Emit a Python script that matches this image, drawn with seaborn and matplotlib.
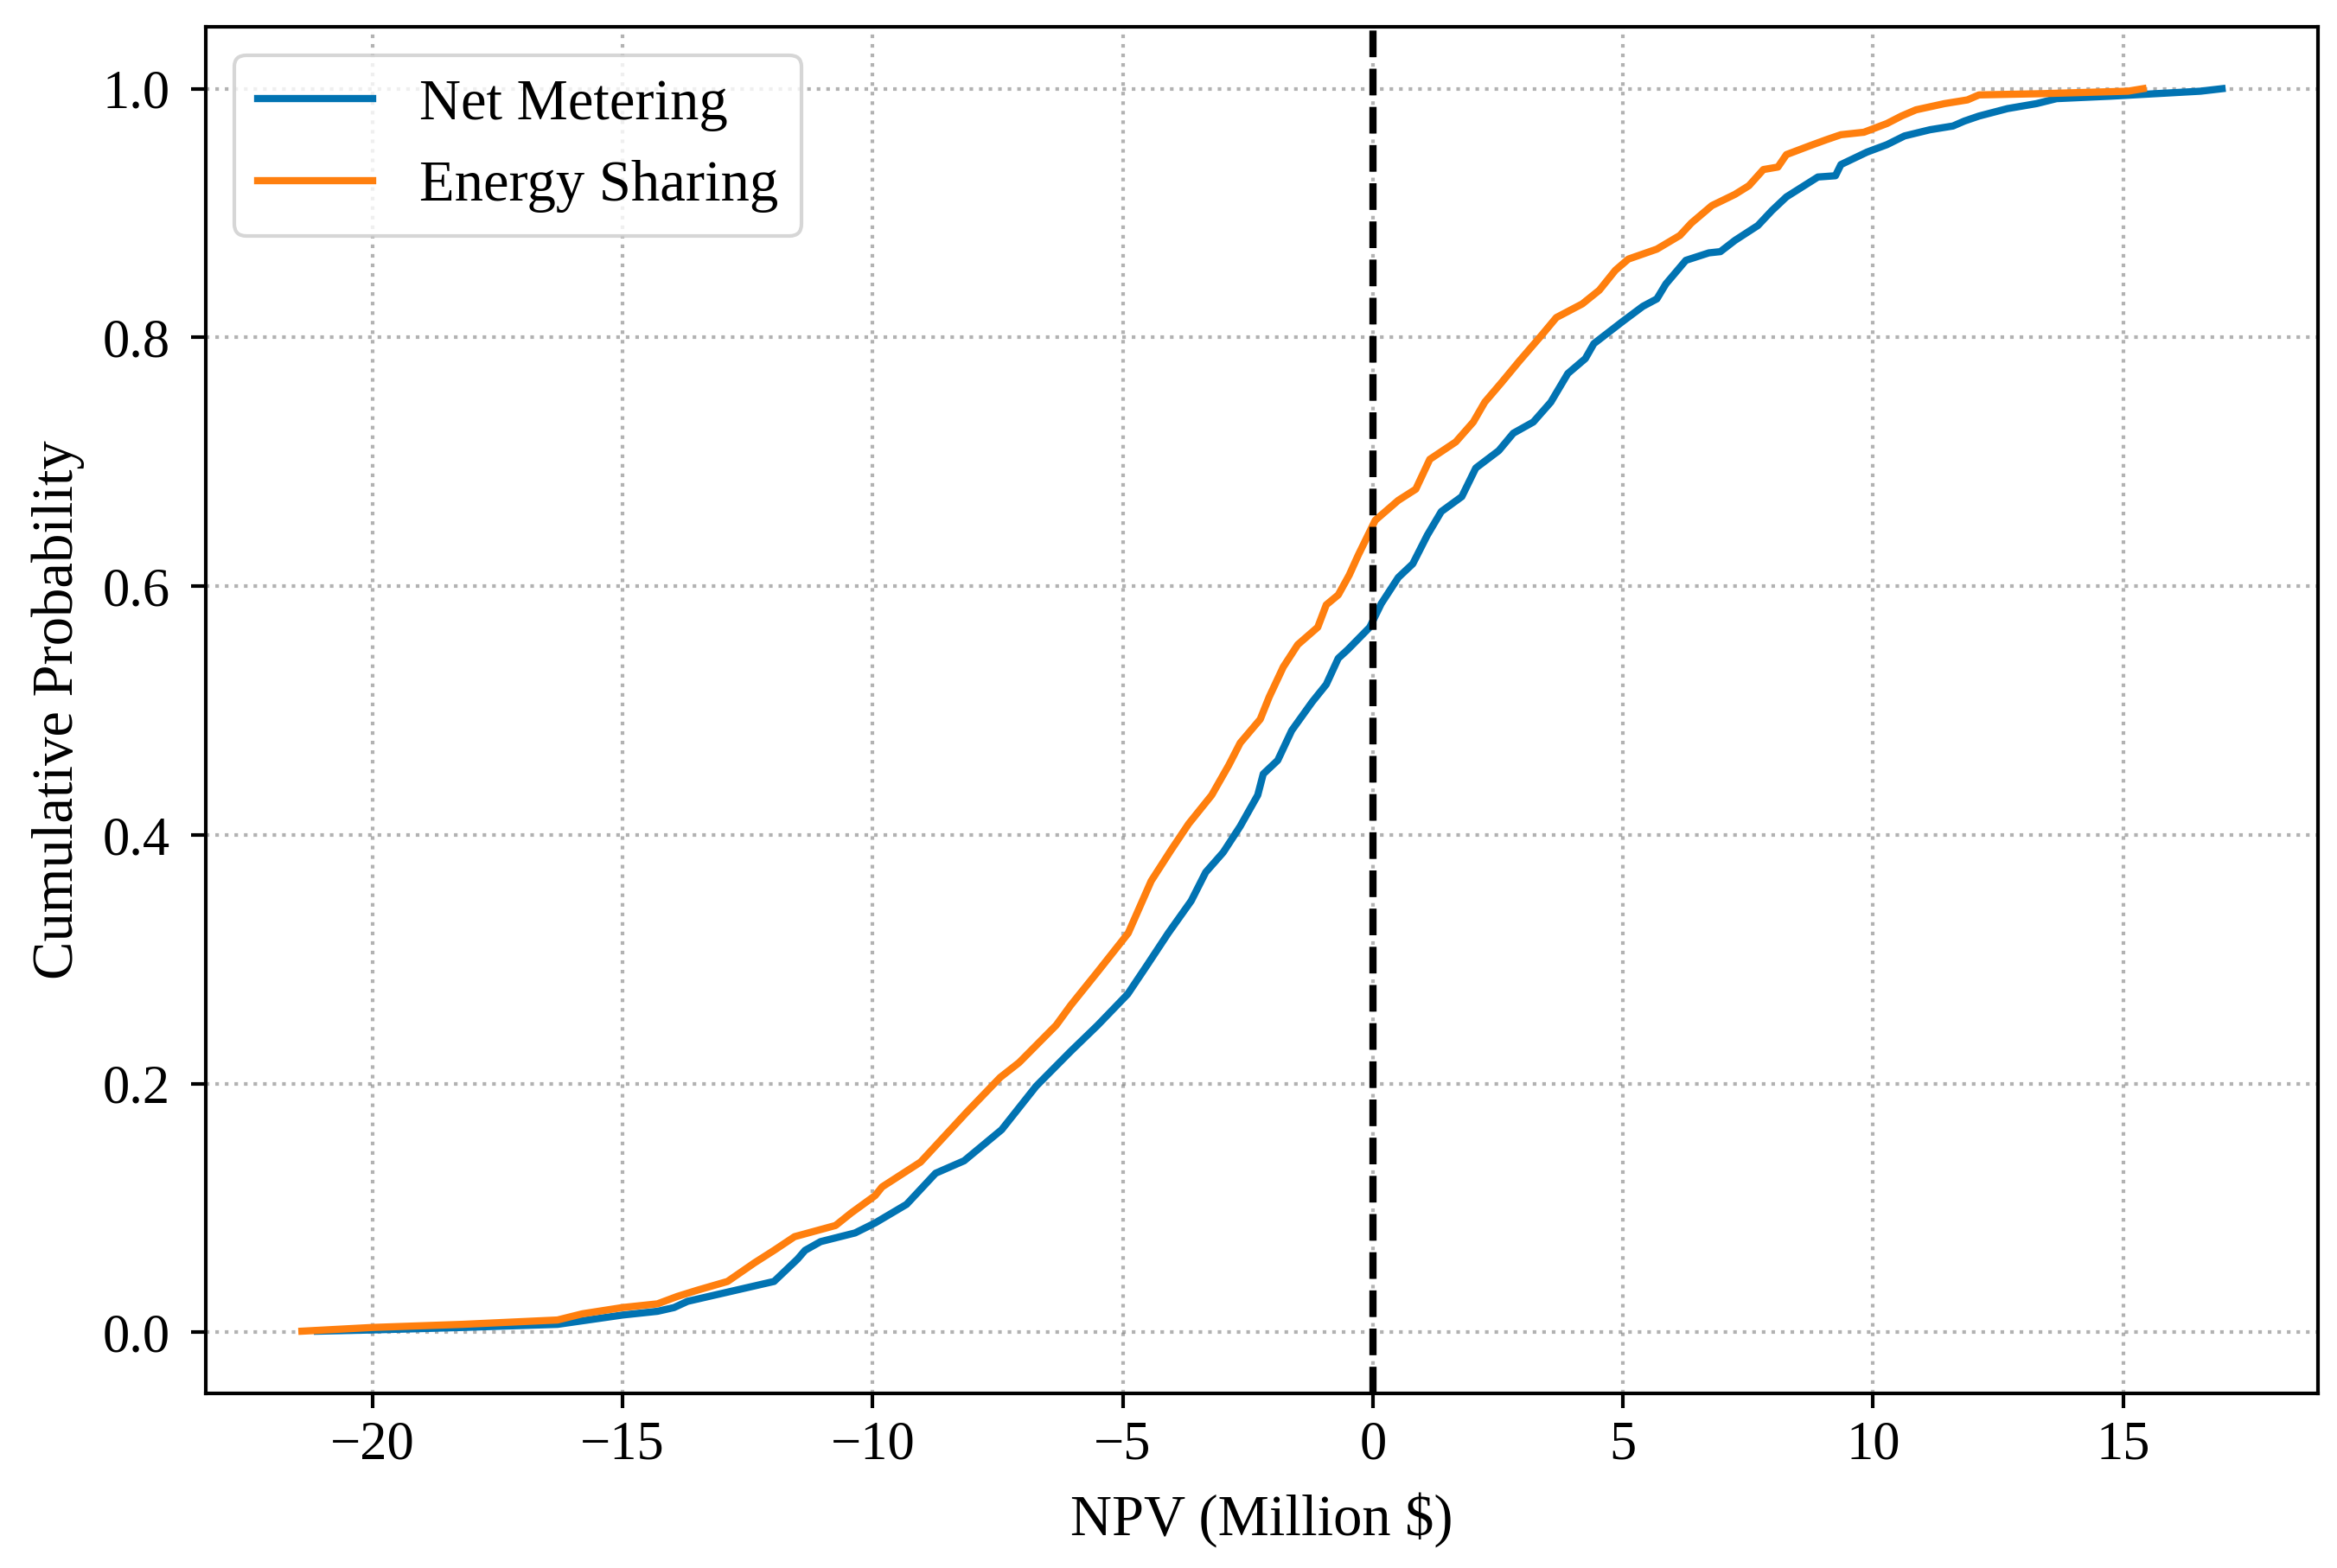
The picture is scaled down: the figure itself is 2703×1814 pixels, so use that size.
import matplotlib
matplotlib.use("Agg")
import matplotlib.pyplot as plt
import pandas as pd
import seaborn as sns

# NPV (million $) at the listed cumulative probabilities
net_npv = [-21.1, -20.0, -18.2, -16.3, -15.0, -14.3, -13.97, -13.7, -11.97, -11.5,
           -11.35, -11.04, -10.35, -9.95, -9.32, -8.74, -8.17, -7.42, -6.73, -6.04,
           -5.5, -4.9, -4.5, -4.09, -3.63, -3.34, -2.99, -2.65, -2.3, -2.19,
           -1.9, -1.62, -1.21, -0.93, -0.69, -0.5, -0.06, 0.17, 0.51, 0.8,
           1.09, 1.37, 1.78, 2.06, 2.52, 2.81, 3.21, 3.56, 3.9, 4.25,
           4.42, 5.0, 5.4, 5.68, 5.86, 6.26, 6.72, 6.95, 7.24, 7.7,
           7.98, 8.27, 8.9, 9.25, 9.36, 9.88, 10.28, 10.63, 11.14, 11.6,
           11.83, 12.12, 12.69, 13.27, 13.67, 14.76, 16.55, 16.98]
net_prob = [0.001, 0.002, 0.004, 0.0065, 0.014, 0.017, 0.020, 0.025, 0.041, 0.059,
            0.066, 0.073, 0.080, 0.088, 0.103, 0.128, 0.138, 0.163, 0.198, 0.226,
            0.247, 0.272, 0.296, 0.321, 0.347, 0.370, 0.386, 0.407, 0.432, 0.449,
            0.460, 0.484, 0.507, 0.521, 0.542, 0.549, 0.567, 0.586, 0.607, 0.618,
            0.641, 0.660, 0.672, 0.695, 0.709, 0.723, 0.732, 0.748, 0.771, 0.783,
            0.795, 0.813, 0.825, 0.831, 0.843, 0.862, 0.868, 0.869, 0.878, 0.890,
            0.902, 0.913, 0.929, 0.930, 0.939, 0.949, 0.955, 0.962, 0.967, 0.970,
            0.974, 0.978, 0.984, 0.988, 0.992, 0.994, 0.998, 1.0]

share_npv = [-21.41, -20.0, -18.2, -16.3, -15.8, -15.0, -14.3, -13.9, -13.5, -12.9,
             -12.36, -11.97, -11.56, -10.74, -10.43, -9.95, -9.81, -9.04, -8.12, -7.45,
             -7.07, -6.33, -6.04, -5.5, -4.89, -4.43, -4.03, -3.68, -3.22, -2.88,
             -2.65, -2.25, -2.07, -1.79, -1.5, -1.1, -0.93, -0.69, -0.47, -0.29,
             0.05, 0.51, 0.86, 1.14, 1.66, 2.01, 2.24, 2.58, 2.93, 3.38,
             3.67, 4.19, 4.53, 4.85, 5.11, 5.68, 6.14, 6.37, 6.78, 7.24,
             7.52, 7.81, 8.1, 8.27, 8.73, 9.07, 9.36, 9.82, 10.28, 10.57,
             10.86, 11.43, 11.89, 12.12, 13.38, 15.1, 15.4]
share_prob = [0.001, 0.004, 0.0065, 0.010, 0.015, 0.020, 0.023, 0.029, 0.034, 0.041,
              0.056, 0.066, 0.077, 0.086, 0.096, 0.110, 0.117, 0.137, 0.177, 0.205,
              0.217, 0.247, 0.263, 0.290, 0.321, 0.363, 0.388, 0.409, 0.432, 0.456,
              0.474, 0.493, 0.511, 0.535, 0.553, 0.567, 0.585, 0.593, 0.609, 0.625,
              0.653, 0.669, 0.678, 0.702, 0.716, 0.732, 0.748, 0.764, 0.781, 0.802,
              0.816, 0.827, 0.838, 0.854, 0.863, 0.871, 0.882, 0.892, 0.906, 0.915,
              0.922, 0.935, 0.937, 0.947, 0.954, 0.959, 0.963, 0.965, 0.972, 0.978,
              0.983, 0.988, 0.991, 0.995, 0.996, 0.998, 1.0]

y_ticks = [0.0, 0.2, 0.4, 0.6, 0.8, 1.0]

plt.rcParams['font.family'] = ['Liberation Serif', 'DejaVu Serif']
plt.rcParams['mathtext.fontset'] = 'stix'

net = pd.DataFrame({"npv": net_npv, "prob": net_prob})
share = pd.DataFrame({"npv": share_npv, "prob": share_prob})

fig = plt.figure(figsize=(9.01, 6.047), dpi=300)
ax = fig.add_axes([0.0881, 0.1114, 0.9038, 0.8716])

sns.lineplot(data=net, x="npv", y="prob", color="#0173B2", linewidth=2,
             label="Net Metering", estimator=None, ax=ax)
sns.lineplot(data=share, x="npv", y="prob", color="#FF7F0E", linewidth=2,
             label="Energy Sharing", estimator=None, ax=ax)
ax.axvline(0, color="black", linestyle="--", linewidth=2)

ax.set_yticks(y_ticks)
ax.grid(True, linestyle=":", linewidth=1.0, color="gray", alpha=0.6)
ax.set_xlabel("NPV (Million $)", fontsize=16, labelpad=6)
ax.set_ylabel("Cumulative Probability", fontsize=16, labelpad=5)
ax.tick_params(labelsize=15, width=1.0, length=4)
ax.tick_params(axis="y", pad=6)
for s in ax.spines.values():
    s.set_linewidth(1.0)

ax.legend(loc="upper left", fontsize=16)

fig.savefig("out.png", dpi=300)
